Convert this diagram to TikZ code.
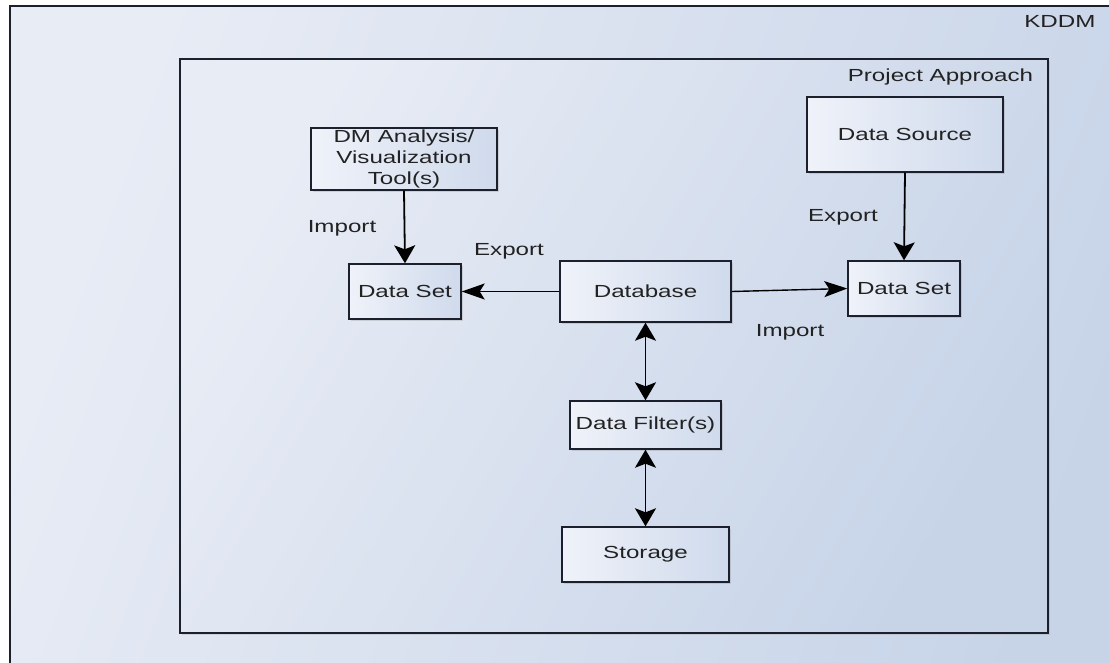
\documentclass[tikz,border=0pt]{standalone}
\usepackage{fontspec}
\setmainfont[FakeStretch=1.38]{Liberation Sans}
\usetikzlibrary{arrows.meta, positioning, shadows}

\definecolor{bgA}{HTML}{E8ECF5}
\definecolor{bgB}{HTML}{C7D4E8}
\definecolor{boxA}{HTML}{EFF2F9}
\definecolor{boxB}{HTML}{CFDAEC}
\definecolor{edge}{HTML}{1C202C}
\definecolor{ink}{HTML}{222222}

\begin{document}
\begin{tikzpicture}[
    x=1pt, y=-1pt,
    font=\fontsize{17.5}{21}\selectfont,
    every node/.style={align=center, text=ink},
    box/.style={draw=edge, line width=1.4pt, left color=boxA, right color=boxB,
        drop shadow={shadow xshift=2pt, shadow yshift=-2pt, opacity=0.25},
        inner sep=0pt},
    frame/.style={draw=edge, line width=1.6pt, left color=bgA, right color=bgB,
        shading angle=70, inner sep=0pt},
    vflow/.style={line width=1.8pt, arrows={-Stealth[length=18pt, width=21pt, inset=4pt]}},
    vboth/.style={line width=1.8pt,
        arrows={Stealth[length=18pt, width=21pt, inset=4pt]-Stealth[length=18pt, width=21pt, inset=4pt]}},
    hflow/.style={line width=1.4pt, arrows={-Stealth[length=23pt, width=16pt, inset=5pt]}}
]
\useasboundingbox (0,0) rectangle (1109,662);
\clip (0,0) rectangle (1109,662);
\fill[white] (0,0) rectangle (1109,662);

%-------------------------------
% 1) Frames
%-------------------------------
\node[frame, minimum width=1140, minimum height=700, anchor=north west] (kddm) at (9,5) {};
\node[anchor=north east] (kddmlbl) at (1099,12) {KDDM};

\node[frame, shading angle=60, minimum width=868, minimum height=574,
      drop shadow={shadow xshift=2pt, shadow yshift=-2pt, opacity=0.2},
      anchor=north west] (approach) at (179,58) {};
\node[anchor=north east] (approachlbl) at ([xshift=-12pt, yshift=-7pt]approach.north east) {Project Approach};

%-------------------------------
% 2) Boxes
%-------------------------------
\node[box, minimum width=186, minimum height=62] (tool) at (404,159)
      {DM Analysis/\\Visualization\\Tool(s)};
\node[box, minimum width=112, minimum height=55] (setL) at (405,291.5) {Data Set};

\node[box, minimum width=196, minimum height=75] (source) at (905,134.5) {Data Source};
\node[box, minimum width=112, minimum height=55] (setR) at (904,288.5) {Data Set};

\node[box, minimum width=171, minimum height=61] (db) at (645.5,291.5) {Database};
\node[box, minimum width=151, minimum height=48] (filter) at (645.5,425) {Data Filter(s)};
\node[box, minimum width=167, minimum height=55] (storage) at (645.5,554.5) {Storage};

%-------------------------------
% 3) Labels
%-------------------------------
\node (impL) at (342,228) {Import};
\node (expL) at (509,251) {Export};
\node (expR) at (843,217) {Export};
\node (impR) at (790,332) {Import};

%-------------------------------
% 4) Connections
%-------------------------------
\draw[vflow] (tool.south) -- (setL.north);
\draw[vflow] (source.south) -- (setR.north);
\draw[hflow] (db.west) -- (setL.east);
\draw[hflow] (db.east) -- (setR.west);
\draw[vboth] (db.south) -- (filter.north);
\draw[vboth] (filter.south) -- (storage.north);

\end{tikzpicture}
\end{document}
